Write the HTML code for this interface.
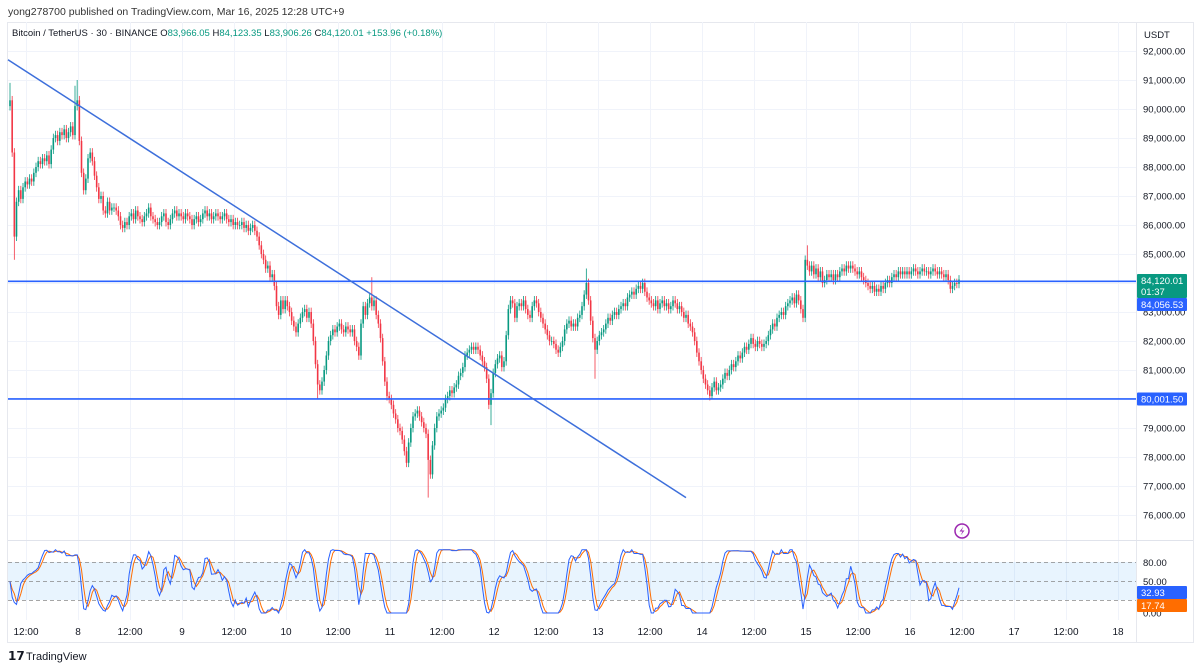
<!DOCTYPE html>
<html><head><meta charset="utf-8"><style>
html,body{margin:0;padding:0;background:#fff;}
svg{display:block;font-family:"Liberation Sans",Arial,sans-serif;}
</style></head><body>
<svg id="chart" width="1200" height="670" viewBox="0 0 1200 670" xmlns="http://www.w3.org/2000/svg">
<text x="8" y="15" font-size="10.5" fill="#333">yong278700 published on TradingView.com, Mar 16, 2025 12:28 UTC+9</text>
<rect x="7.5" y="22.5" width="1186" height="620" fill="#fff" stroke="#e6e8ee"/>
<g id="grid"></g>
<rect x="8" y="562" width="1128" height="38" fill="rgba(33,150,243,0.1)"/>
<g id="stochGuides"></g>
<g id="candles"></g>
<g id="lines"></g>
<g id="stoch"></g>
<line x1="1136.5" y1="22" x2="1136.5" y2="642" stroke="#e6e8ee"/>
<line x1="8" y1="540.5" x2="1193" y2="540.5" stroke="#e0e3eb"/>
<g id="axis"></g>
<g id="taxis"></g>
<text x="12" y="36" font-size="9.5" fill="#131722">Bitcoin / TetherUS · 30 · BINANCE <tspan fill="#131722">O</tspan><tspan fill="#089981">83,966.05</tspan> <tspan fill="#131722">H</tspan><tspan fill="#089981">84,123.35</tspan> <tspan fill="#131722">L</tspan><tspan fill="#089981">83,906.26</tspan> <tspan fill="#131722">C</tspan><tspan fill="#089981">84,120.01</tspan> <tspan fill="#089981">+153.96 (+0.18%)</tspan></text>
<text x="1144" y="38" font-size="9.5" fill="#131722">USDT</text>
<g><circle cx="962" cy="531" r="7" fill="none" stroke="#9c27b0" stroke-width="1.5"/><path d="M963.5 526.5 L959.5 531.5 L962.5 531.5 L960.5 535.5 L964.5 530.5 L961.5 530.5 Z" fill="#9c27b0"/></g>
<g><text x="8" y="660" font-size="12" font-weight="bold" fill="#131722">𝟭𝟳</text><text x="26" y="660" font-size="11" fill="#131722">TradingView</text></g>
</svg>
<script>
// ---- data (prices in thousands USDT, 30-min closes starting Mar 7 08:30) ----
const closes = [
90.3,88.5,85.6,86.8,87.2,86.9,87.3,87.5,87.4,87.6,87.5,87.8,88.0,88.2,88.1,88.3,88.2,88.4,88.1,88.6,89.0,89.1,88.9,89.2,89.1,89.3,89.0,89.2,89.4,89.1,90.1,
90.3,88.9,87.8,87.2,87.6,88.3,88.5,88.2,87.7,87.3,86.9,87.0,86.5,86.4,86.8,86.5,86.6,86.6,86.5,86.3,86.0,85.9,86.1,86.0,86.3,86.4,86.2,86.5,86.3,86.2,86.1,86.3,86.4,86.6,86.3,86.2,86.1,86.0,86.1,86.3,86.4,86.1,86.0,86.2,86.4,86.5,86.3,86.4,
86.3,86.2,86.4,86.3,86.2,86.0,86.2,86.3,86.1,86.2,86.4,86.5,86.3,86.4,86.2,86.3,86.4,86.3,86.2,86.3,86.4,86.2,86.1,86.2,86.0,86.1,86.0,86.0,86.1,85.9,86.0,85.8,85.9,86.0,85.8,85.6,85.3,85.0,84.8,84.5,84.6,84.2,84.3,83.9,83.2,82.9,83.4,83.1,
83.4,83.2,83.0,82.7,82.5,82.3,82.6,82.8,83.0,83.1,82.8,83.0,82.6,82.0,81.2,80.5,80.3,80.6,81.0,81.5,82.0,82.2,82.4,82.3,82.5,82.6,82.4,82.3,82.5,82.4,82.3,82.4,82.0,81.8,81.5,82.6,83.2,82.9,83.3,83.5,83.2,83.4,82.9,82.6,82.1,81.3,80.6,80.1,
80.0,79.8,79.5,79.3,79.0,78.9,78.6,78.2,77.8,78.5,79.0,79.4,79.5,79.6,79.4,79.2,79.0,78.8,77.9,77.4,78.4,79.0,79.4,79.5,79.6,79.7,80.0,80.1,80.3,80.2,80.4,80.5,80.8,80.9,81.1,81.5,81.6,81.7,81.8,81.7,81.8,81.7,81.5,81.3,81.1,80.7,79.8,80.2,
80.9,81.2,81.4,81.5,81.1,81.3,82.2,83.1,83.4,83.3,82.8,83.2,83.3,83.2,83.4,83.1,82.9,82.8,83.2,83.4,83.3,83.0,82.8,82.6,82.4,82.2,82.0,82.0,81.9,81.7,81.6,81.8,82.0,82.4,82.6,82.7,82.5,82.6,82.5,82.8,82.9,83.2,83.6,84.0,83.4,82.7,82.1,81.7,
82.0,82.2,82.3,82.4,82.6,82.8,82.7,82.9,83.0,82.9,83.1,83.2,83.3,83.2,83.5,83.6,83.7,83.6,83.8,83.9,83.8,84.0,83.7,83.5,83.4,83.3,83.2,83.4,83.1,83.3,83.4,83.2,83.3,83.1,83.2,83.4,83.3,83.1,83.2,83.0,82.8,82.9,82.6,82.5,82.3,82.0,81.6,81.3,
81.0,80.7,80.5,80.3,80.1,80.4,80.6,80.3,80.4,80.5,80.7,80.9,80.8,81.0,81.2,81.1,81.3,81.5,81.4,81.6,81.8,81.7,81.9,82.1,81.9,81.8,82.0,81.9,81.8,81.9,82.0,82.2,82.4,82.6,82.5,82.8,82.9,83.0,82.9,83.2,83.3,83.4,83.5,83.3,83.6,83.4,83.1,82.8,
84.8,84.6,84.4,84.6,84.3,84.5,84.2,84.4,84.0,84.1,84.3,84.2,84.3,84.1,84.3,84.2,84.4,84.5,84.4,84.6,84.5,84.6,84.5,84.4,84.3,84.4,84.2,84.1,84.0,83.9,83.8,83.9,83.7,83.8,83.7,83.9,83.8,84.0,84.1,84.0,84.2,84.3,84.2,84.4,84.3,84.4,84.3,84.4,
84.3,84.4,84.5,84.4,84.3,84.4,84.5,84.4,84.4,84.3,84.4,84.5,84.4,84.3,84.4,84.3,84.2,84.3,84.1,83.8,83.9,84.0,83.97,84.12];
const firstOpen = 90.1;
// notable wicks: candle index, extreme price
const wickHighIdx = [0,30,31,167,266,368];
const wickHighVal = [90.9,90.8,91.0,84.2,84.5,85.3];
const wickLowIdx = [2,142,193,222,270,324];
const wickLowVal = [84.8,80.0,76.6,79.1,80.7,80.0];
const priceTicks = [92,91,90,89,88,87,86,85,84,83,82,81,80,79,78,77,76];
const dayLabels = ["12:00","8","12:00","9","12:00","10","12:00","11","12:00","12","12:00","13","12:00","14","12:00","15","12:00","16","12:00","17","12:00","18"];
const hLevels = [84.05653, 80.0015];
const trendStart = [0, 91.7];   // [candle index, price]
const trendEnd = [312, 76.6];
const stochLevels = [80, 50, 20];

// ---- scales ----
const NS='http://www.w3.org/2000/svg';
const x0 = 10, step = 104/48;
const xOf = i => x0 + i*step;
const yOf = p => 51 + (92 - p)*29;
const sy = v => 613 - v*0.633;
function mk(tag, attrs, parent){const e=document.createElementNS(NS,tag);for(const k in attrs)e.setAttribute(k,attrs[k]);parent.appendChild(e);return e;}

const grid=document.getElementById('grid');
priceTicks.forEach(p=>{
  const l=mk('line',{x1:8,x2:1136,y1:yOf(p)+0.5,y2:yOf(p)+0.5,stroke:'#f0f3fa'},grid);
  
  
});
dayLabels.forEach((t,k)=>{
  const x=26+k*52;
  const l=mk('line',{x1:x+0.5,x2:x+0.5,y1:22,y2:620,stroke:'#f0f3fa'},grid);
  
  
  const tx=mk('text',{x:x,y:635,'font-size':10,fill:'#131722','text-anchor':'middle'},document.getElementById('taxis'));
  tx.textContent=t;
  
  
});

// candles
const cg=document.getElementById('candles');
closes.forEach((c,i)=>{
  const o = i===0 ? firstOpen : closes[i-1];
  let hi=Math.max(o,c)+0.15, lo=Math.min(o,c)-0.15;
  const hj=wickHighIdx.indexOf(i); if(hj>=0) hi=wickHighVal[hj];
  const lj=wickLowIdx.indexOf(i); if(lj>=0) lo=wickLowVal[lj];
  const col = c>=o ? '#089981' : '#f23645';
  const x=xOf(i);
  const g=mk('g',{},cg);
  
  
  mk('line',{x1:x,x2:x,y1:yOf(hi),y2:yOf(lo),stroke:col,'stroke-width':0.8},g);
  const yt=yOf(Math.max(o,c)), yb=yOf(Math.min(o,c));
  mk('rect',{x:x-0.8,y:yt,width:1.6,height:Math.max(0.8,yb-yt),fill:col},g);
});

// drawings
const lg=document.getElementById('lines');
hLevels.forEach(p=>{
  const l=mk('line',{x1:8,x2:1136,y1:yOf(p),y2:yOf(p),stroke:'#2962ff','stroke-width':1.6},lg);
  
  
});
const tl=mk('line',{x1:xOf(trendStart[0])-2,y1:yOf(trendStart[1]),x2:xOf(trendEnd[0]),y2:yOf(trendEnd[1]),stroke:'#3d6fdb','stroke-width':1.5},lg);



// stoch RSI from closes
function rsi(arr,n){const out=[];let ag=0,al=0;for(let i=0;i<arr.length;i++){if(i===0){out.push(50);continue;}const d=arr[i]-arr[i-1];const g=Math.max(d,0),l=Math.max(-d,0);const k=Math.min(i,n);ag=(ag*(k-1)+g)/k;al=(al*(k-1)+l)/k;out.push(al===0?100:100-100/(1+ag/al));}return out;}
const r=rsi(closes,14);
const st=r.map((v,i)=>{const w=r.slice(Math.max(0,i-13),i+1);const mn=Math.min(...w),mx=Math.max(...w);return mx===mn?50:(v-mn)/(mx-mn)*100;});
const sma=(a,n)=>a.map((v,i)=>{const w=a.slice(Math.max(0,i-n+1),i+1);return w.reduce((s,x)=>s+x,0)/w.length;});
const K=sma(st,3), D=sma(K,3);
const sg=document.getElementById('stochGuides');
stochLevels.forEach(v=>{
  const l=mk('line',{x1:8,x2:1136,y1:sy(v),y2:sy(v),stroke:'#888','stroke-dasharray':'4 3','stroke-width':0.8},sg);
  
  
});
const sgp=document.getElementById('stoch');
[[D,'#ff6d00','stoch-d-line'],[K,'#2962ff','stoch-k-line']].forEach(([a,col,nm])=>{
  const p=mk('polyline',{points:a.map((v,i)=>xOf(i).toFixed(1)+','+sy(v).toFixed(1)).join(' '),fill:'none',stroke:col,'stroke-width':1},sgp);
  
  
});

// price axis
const ax=document.getElementById('axis');
priceTicks.forEach(p=>{
  const t=mk('text',{x:1143,y:yOf(p)+3.5,'font-size':9.5,fill:'#131722'},ax);
  t.textContent=(p*1000).toLocaleString('en-US',{minimumFractionDigits:2});
  
  
});
[[80,'80.00'],[50,'50.00'],[0,'0.00']].forEach(([v,s])=>{
  const t=mk('text',{x:1143,y:sy(v)+3.5,'font-size':9.5,fill:'#131722'},ax);
  t.textContent=s;
  
  
});
function badge(y,h,fill,lines,name){
  const g=mk('g',{},ax);
  
  
  mk('rect',{x:1137,y:y,width:50,height:h,fill:fill,rx:1},g);
  lines.forEach((s,k)=>{const t=mk('text',{x:1141,y:y+10+k*11,'font-size':9.5,fill:'#fff'},g);t.textContent=s;});
}
badge(274,24,'#089981',['84,120.01','01:37'],'last-price-badge');
badge(298,13,'#2962ff',['84,056.53'],'level-badge-84056');
badge(392.5,13,'#2962ff',['80,001.50'],'level-badge-80001');
badge(586,13,'#2962ff',['32.93'],'stoch-k-badge');
badge(599,13,'#ff6d00',['17.74'],'stoch-d-badge');
</script>
</body></html>
